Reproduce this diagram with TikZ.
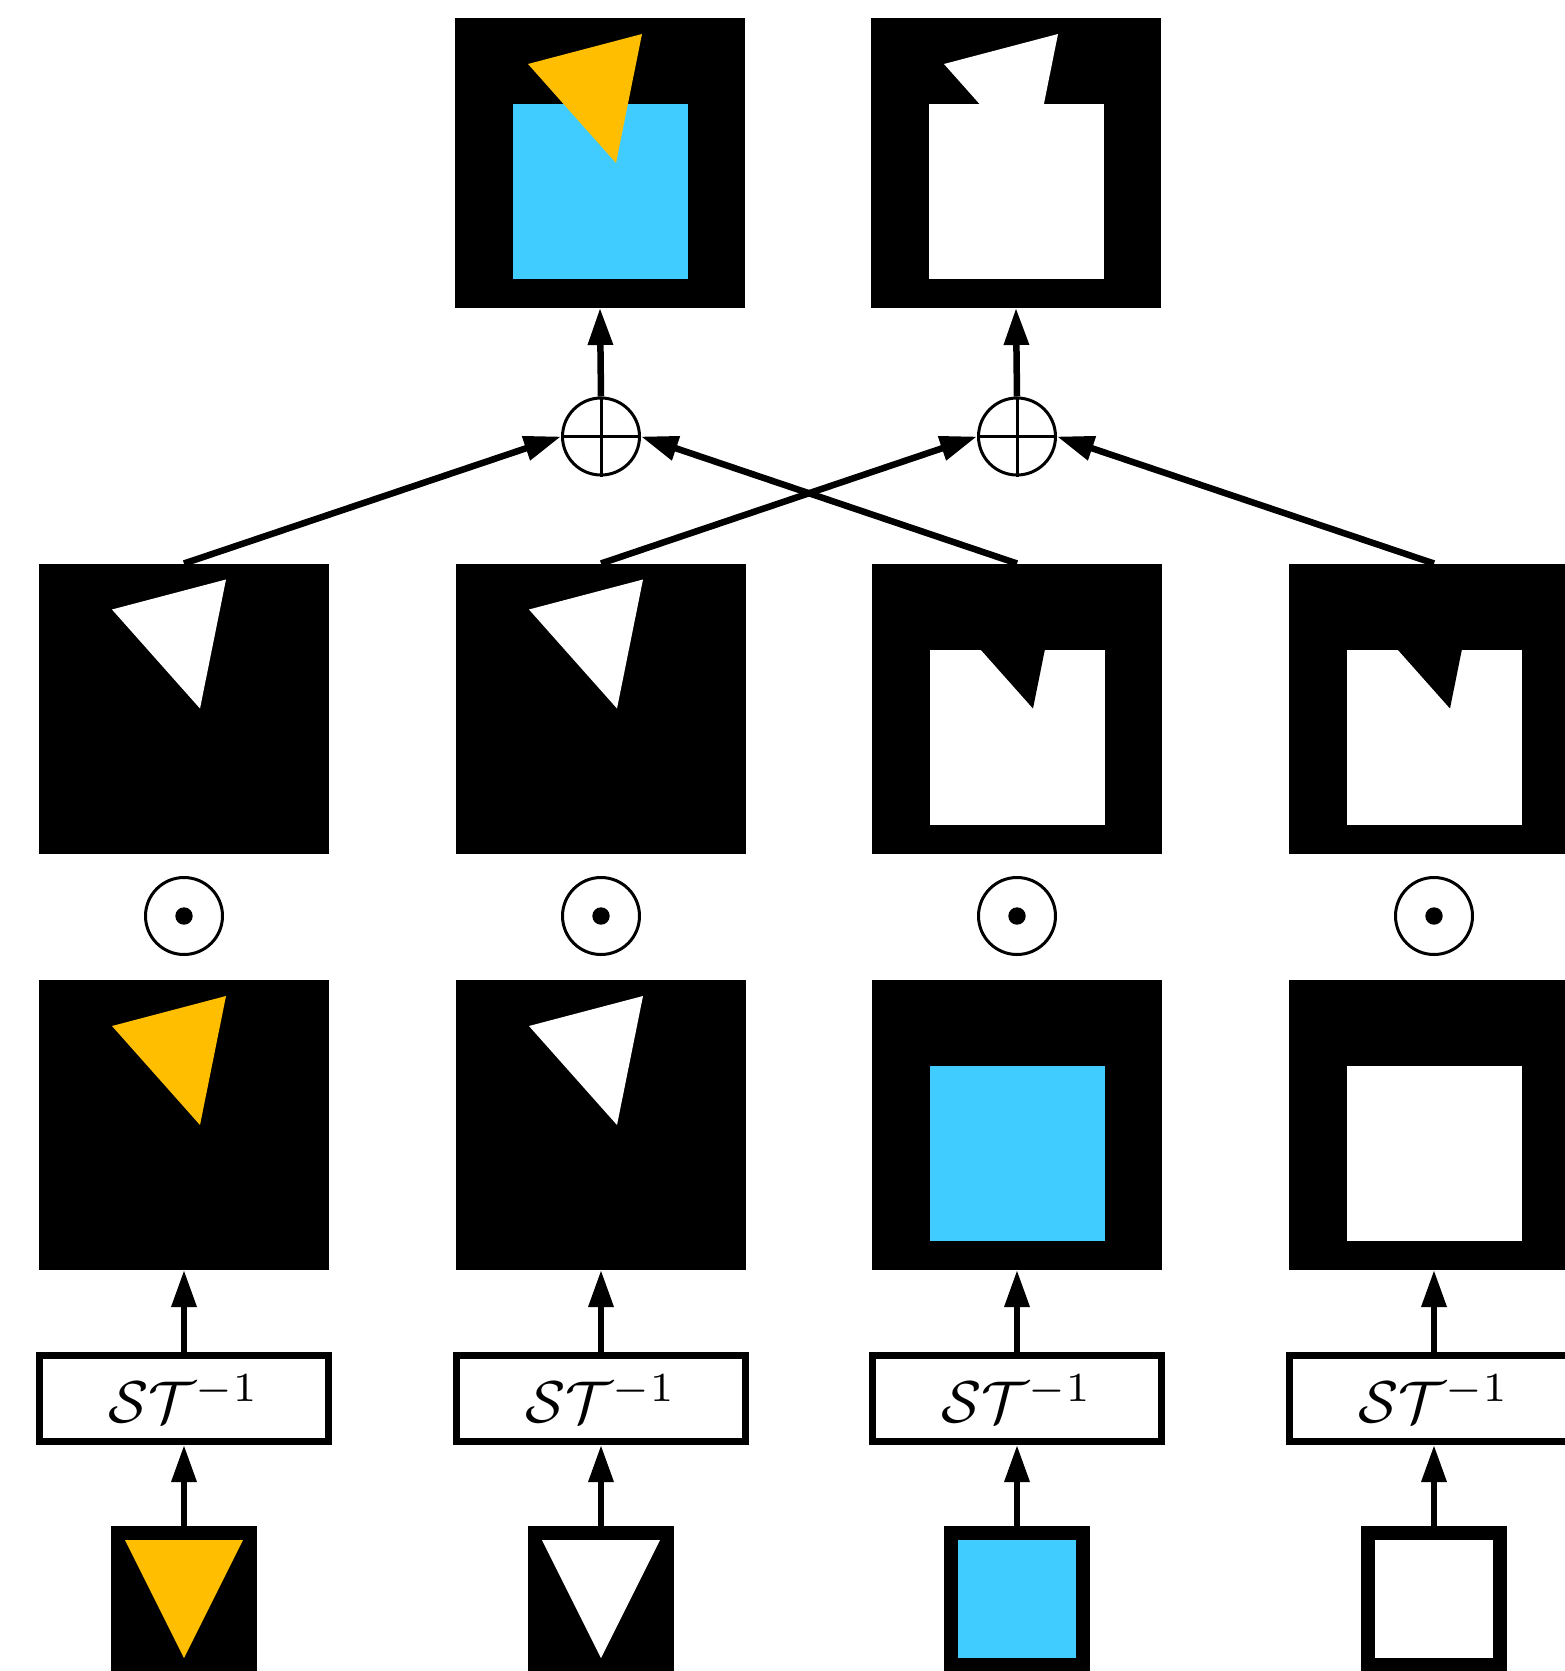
\documentclass[tikz,border=0pt]{standalone}
\usepackage{graphicx}
\usetikzlibrary{arrows.meta}
\definecolor{skyc}{RGB}{64,204,255}
\definecolor{ambc}{RGB}{255,191,0}

\begin{document}
\begin{tikzpicture}[x=1pt,y=-1pt,
  img/.style={fill=black,minimum width=290pt,minimum height=290pt,inner sep=0pt,outer sep=0pt},
  icon/.style={fill=black,minimum width=146pt,minimum height=146pt,inner sep=0pt,outer sep=0pt},
  opbox/.style={draw=black,line width=7pt,fill=white,minimum width=289pt,minimum height=86pt,inner sep=0pt},
  opcirc/.style={circle,draw=black,line width=3pt,minimum size=77pt,inner sep=0pt},
  flow/.style={line width=6.5pt,-{Triangle[length=37pt,width=24pt]}},
]
\useasboundingbox (0,0) rectangle (1565,1671);

% ---- top row: combined results
\node[img] (t1) at (600,163) {};
\node[img] (t2) at (1016,163) {};
\begin{scope}[shift={(t1.north west)}]
  \fill[skyc] (58,86) rectangle (233,261);
  \fill[ambc] (73,46) -- (187,16) -- (161,145) -- cycle;
\end{scope}
\begin{scope}[shift={(t2.north west)}]
  \fill[white] (58,86) rectangle (233,261);
  \fill[white] (73,46) -- (187,16) -- (161,145) -- cycle;
\end{scope}

% ---- sum nodes
\node[opcirc] (p1) at (601,436.5) {};
\node[opcirc] (p2) at (1017,436.5) {};
\foreach \p in {p1,p2}{
  \draw[line width=3pt] (\p.north) -- (\p.south) (\p.west) -- (\p.east);
}

% ---- masks
\foreach \i/\x in {1/184,2/601,3/1017,4/1434}{
  \node[img] (a\i) at (\x,708.5) {};
}
\foreach \i in {1,2}{
  \begin{scope}[shift={(a\i.north west)}]
    \fill[white] (73,46) -- (187,16) -- (161,145) -- cycle;
  \end{scope}
}
\foreach \i in {3,4}{
  \begin{scope}[shift={(a\i.north west)}]
    \fill[white] (58,86) rectangle (233,261);
    \fill[black] (73,46) -- (187,16) -- (161,145) -- cycle;
  \end{scope}
}

% ---- product nodes
\foreach \i/\x in {1/184,2/601,3/1017,4/1434}{
  \node[opcirc] (m\i) at (\x,916) {};
  \fill (m\i.center) circle[radius=8.7pt];
}

% ---- transformed layers
\foreach \i/\x in {1/184,2/601,3/1017,4/1434}{
  \node[img] (b\i) at (\x,1125) {};
}
\begin{scope}[shift={(b1.north west)}]
  \fill[ambc] (73,46) -- (187,16) -- (161,145) -- cycle;
\end{scope}
\begin{scope}[shift={(b2.north west)}]
  \fill[white] (73,46) -- (187,16) -- (161,145) -- cycle;
\end{scope}
\begin{scope}[shift={(b3.north west)}]
  \fill[skyc] (58,86) rectangle (233,261);
\end{scope}
\begin{scope}[shift={(b4.north west)}]
  \fill[white] (58,86) rectangle (233,261);
\end{scope}

% ---- transform blocks
\foreach \i/\x in {1/184,2/601,3/1017,4/1434}{
  \node[opbox] (s\i) at (\x,1398.5) {\raisebox{-3pt}{\scalebox{5.9}{$\mathcal{S}\mathcal{T}^{-1}$}}};
}

% ---- input layers
\foreach \i/\x in {1/184,2/601,3/1017,4/1434}{
  \node[icon] (i\i) at (\x,1599) {};
}
\begin{scope}[shift={(i1.north west)}]
  \fill[ambc] (14,14) -- (132,14) -- (73,132) -- cycle;
\end{scope}
\begin{scope}[shift={(i2.north west)}]
  \fill[white] (14,14) -- (132,14) -- (73,132) -- cycle;
\end{scope}
\begin{scope}[shift={(i3.north west)}]
  \fill[skyc] (14,14) rectangle (132,132);
\end{scope}
\begin{scope}[shift={(i4.north west)}]
  \fill[white] (14,14) rectangle (132,132);
\end{scope}

% ---- connectors
\foreach \i in {1,2,3,4}{
  \draw[flow] (i\i.north) -- (s\i.south);
  \draw[flow] (s\i.north) -- (b\i.south);
}
\draw[flow] (a1.north) -- (p1.west);
\draw[flow] (a3.north) -- (p1.east);
\draw[flow] (a2.north) -- (p2.west);
\draw[flow] (a4.north) -- (p2.east);
\draw[flow] (p1.north) -- (t1.south);
\draw[flow] (p2.north) -- (t2.south);
\end{tikzpicture}
\end{document}
